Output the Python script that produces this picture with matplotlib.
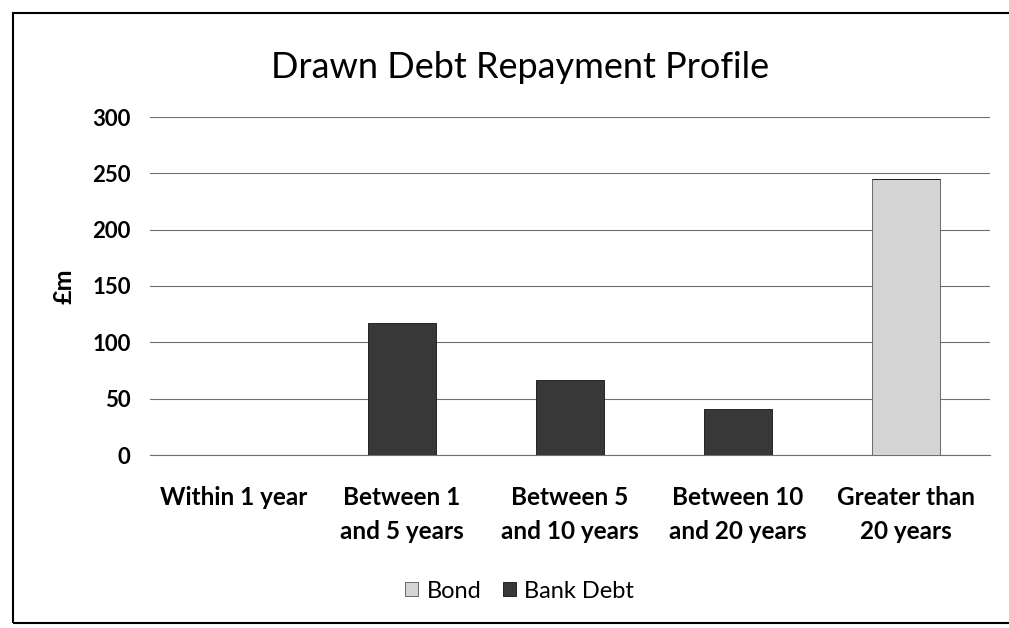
import matplotlib.pyplot as plt
from matplotlib.patches import Rectangle

# Debt maturity buckets and drawn amounts (£m)
categories = ['Within 1 year', 'Between 1\nand 5 years', 'Between 5\nand 10 years',
              'Between 10\nand 20 years', 'Greater than\n20 years']
bond = [0, 0, 0, 0, 245]
bank_debt = [0, 117, 67, 41, 0]
y_ticks = [0, 50, 100, 150, 200, 250, 300]

plt.rcParams['font.family'] = ['Lato', 'DejaVu Sans']

fig = plt.figure(figsize=(10.09, 6.28), dpi=100)
ax = fig.add_axes([150 / 1009, 1 - 455 / 628, 840 / 1009, 338 / 628])

x = range(len(categories))
ax.bar(x, bond, width=0.41, color='#d4d4d4', edgecolor='#555555', linewidth=0.6,
       label='Bond', zorder=3)
ax.bar(x, bank_debt, width=0.41, bottom=bond, color='#383838', edgecolor='#111111',
       linewidth=0.6, label='Bank Debt', zorder=3)

ax.set_xlim(-0.5, len(categories) - 0.5)
ax.set_ylim(0, 300)
ax.set_yticks(y_ticks)
ax.set_yticklabels([str(t) for t in y_ticks], fontsize=16, fontweight='bold')
ax.set_xticks(list(x))
ax.set_xticklabels(categories, fontsize=17.5, fontweight='bold', linespacing=1.6)
ax.tick_params(axis='y', length=0, pad=14)
ax.tick_params(axis='x', length=0, pad=22)
ax.grid(axis='y', color='#707070', linewidth=0.8, zorder=0)
for side in ['top', 'right', 'left']:
    ax.spines[side].set_visible(False)
ax.spines['bottom'].set_color('#707070')
ax.spines['bottom'].set_linewidth(0.8)

ax.set_ylabel('£m', fontsize=18, fontweight='bold', labelpad=12)
fig.text(0.515, 1 - 68 / 628, 'Drawn Debt Repayment Profile', fontsize=26,
         ha='center', va='center')

fig.legend(loc='center', bbox_to_anchor=(0.515, 1 - 591 / 628), ncol=2,
           frameon=False, fontsize=17, handlelength=0.55, handleheight=0.55,
           handletextpad=0.35, columnspacing=0.9)

# outer chart frame
fig.patches.append(Rectangle((13 / 1009, 1 - 623 / 628), 1.0, 610 / 628,
                             transform=fig.transFigure, fill=False,
                             edgecolor='black', linewidth=1.5))

fig.savefig('out.png', dpi=100)
